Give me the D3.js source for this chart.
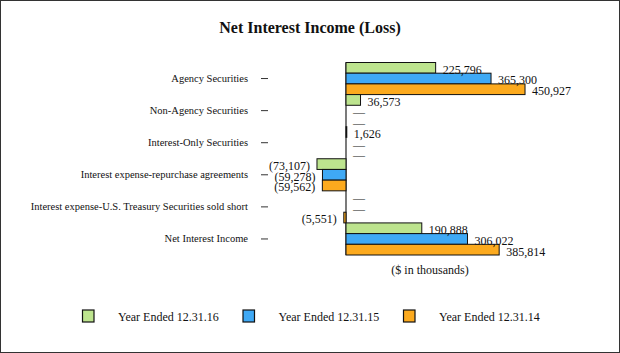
<!DOCTYPE html>
<html>
<head>
<meta charset="utf-8">
<script src="https://cdn.jsdelivr.net/npm/d3@7"></script>
<style>
  body { margin: 0; background: #fff; }
  text { font-family: "Liberation Serif", "Times New Roman", serif; fill: #111; }
</style>
</head>
<body>
<svg id="chart" width="620" height="353"></svg>
<script>
let categories = ["Agency Securities", "Non-Agency Securities", "Interest-Only Securities",
  "Interest expense-repurchase agreements", "Interest expense-U.S. Treasury Securities sold short",
  "Net Interest Income"];
let seriesNames = ["Year Ended 12.31.16", "Year Ended 12.31.15", "Year Ended 12.31.14"];
let values16 = [225796, 36573, 1626, -73107, 0, 190888];
let values15 = [365300, 0, 0, -59278, 0, 306022];
let values14 = [450927, 0, 0, -59562, -5551, 385814];
let colours = ["#bde48e", "#3fa9f5", "#fcaa1e"];

let allValues = [values16, values15, values14];
let data = [];
categories.forEach(function(c, i){
  seriesNames.forEach(function(s, j){
    data.push({cat: c, series: s, value: allValues[j][i], idx: j});
  });
});

let width = 620, height = 353;
let svg = d3.select("#chart");

svg.append("rect")
  .attr("x", 0.5).attr("y", 0.5)
  .attr("width", width - 1).attr("height", height - 1)
  .attr("fill", "#fff").attr("stroke", "#333");

svg.append("text")
  .attr("x", 310).attr("y", 33)
  .attr("text-anchor", "middle")
  .attr("font-size", "16px").attr("font-weight", "bold")
  .text("Net Interest Income (Loss)");

let x = d3.scaleLinear()
  .domain([-200000, 500000])
  .range([266.6, 544.5]);

let y = d3.scaleBand()
  .domain(categories)
  .range([62.5, 255])
  .padding(0);

let ySub = d3.scaleBand()
  .domain(seriesNames)
  .range([0, y.bandwidth()])
  .padding(0);

let fmt = d3.format(",");
function label(v){
  if (v === 0) return "\u2014";
  return v < 0 ? "(" + fmt(-v) + ")" : fmt(v);
}

// zero axis
svg.append("line")
  .attr("x1", x(0)).attr("x2", x(0))
  .attr("y1", y.range()[0]).attr("y2", y.range()[1])
  .attr("stroke", "#222").attr("stroke-width", 1.2);

// category axis labels and ticks
let axisG = svg.append("g").attr("class", "axisY");
axisG.selectAll("text")
  .data(categories)
  .join("text")
    .attr("x", 248)
    .attr("y", d => y(d) + y.bandwidth() / 2 + 3.5)
    .attr("text-anchor", "end")
    .attr("font-size", "10.5px")
    .text(d => d);
axisG.selectAll("line")
  .data(categories)
  .join("line")
    .attr("x1", 261).attr("x2", 268)
    .attr("y1", d => y(d) + y.bandwidth() / 2)
    .attr("y2", d => y(d) + y.bandwidth() / 2)
    .attr("stroke", "#333");

let mainG = svg.append("g").attr("class", "main");
mainG.selectAll("rect")
  .data(data.filter(d => d.value !== 0))
  .join("rect")
    .attr("x", d => x(Math.min(0, d.value)))
    .attr("y", d => y(d.cat) + ySub(d.series))
    .attr("width", d => Math.max(0.8, Math.abs(x(d.value) - x(0))))
    .attr("height", ySub.bandwidth())
    .attr("fill", d => colours[d.idx])
    .attr("stroke", "#111").attr("stroke-width", 1);

mainG.selectAll("text")
  .data(data)
  .join("text")
    .attr("x", d => d.value < 0 ? x(d.value) - 7 : x(d.value) + 7)
    .attr("y", d => y(d.cat) + ySub(d.series) + ySub.bandwidth() + 0.5)
    .attr("text-anchor", d => d.value < 0 ? "end" : "start")
    .attr("font-size", "12px")
    .attr("fill", d => d.value === 0 ? "#888" : "#111")
    .text(d => label(d.value));

svg.append("text")
  .attr("x", 430).attr("y", 274)
  .attr("text-anchor", "middle")
  .attr("font-size", "12px")
  .text("($ in thousands)");

// legend
let legendX = [82.5, 243, 403.5];
let legendG = svg.append("g").attr("class", "legend");
let items = legendG.selectAll("g")
  .data(seriesNames)
  .join("g")
    .attr("transform", (d, i) => "translate(" + legendX[i] + "," + 310 + ")");
items.append("rect")
  .attr("width", 11.5).attr("height", 12)
  .attr("fill", (d, i) => colours[i])
  .attr("stroke", "#111").attr("stroke-width", 1.2);
items.append("text")
  .attr("x", 35.5).attr("y", 10.5)
  .attr("font-size", "12px")
  .text(d => d);
</script>
</body>
</html>
